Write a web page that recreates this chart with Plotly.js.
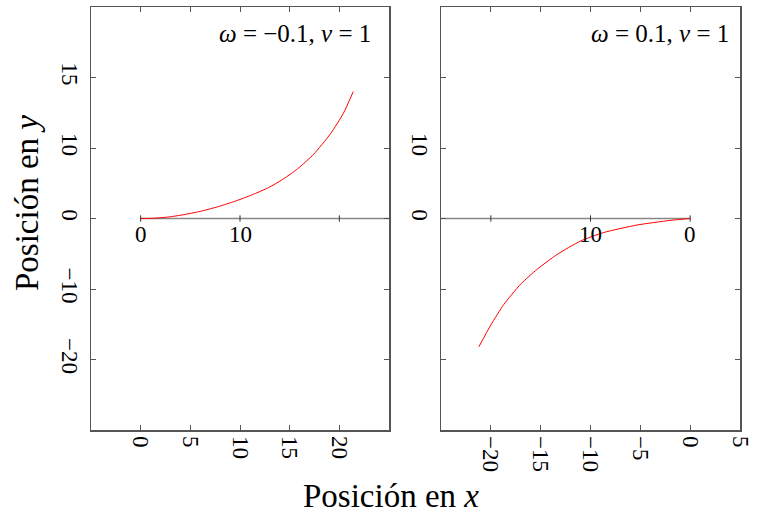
<!DOCTYPE html>
<html>
<head>
<meta charset="utf-8">
<script src="https://cdn.plot.ly/plotly-3.0.1.min.js"></script>
<style>html,body{margin:0;padding:0;background:#fff;}#chart{width:757px;height:514px;}</style>
</head>
<body>
<div id="chart"></div>
<script>
// ---- data ----
const leftX = [0, 1.2, 2.85, 4.5, 6.2, 7.85, 9.5, 11.2, 12.9, 14.3, 15.8, 17.4, 19.1, 20.4, 21.4];
const leftY = [0, 0.03, 0.22, 0.58, 1.08, 1.7, 2.45, 3.35, 4.4, 5.55, 7.05, 9.1, 12.0, 14.9, 18.0];
const rightX = [0, -2.0, -5.35, -8.7, -11.0, -13.35, -15.35, -17.0, -18.7, -20.0, -21.2];
const rightY = [0, -0.27, -0.93, -2.0, -3.2, -5.1, -7.2, -9.3, -12.2, -15.1, -18.2];

const yTickVals = [-20, -10, 0, 10, 20];
const leftYTickText = ['−20', '−10', '0', '10', '15'];
const rightYTickText = ['', '', '0', '10', ''];
const leftXTicks = [0, 5, 10, 15, 20];
const leftXTickText = ['0', '5', '10', '15', '20'];
const rightXTicks = [-20, -15, -10, -5, 0, 5];
const rightXTickText = ['−20', '−15', '−10', '−5', '0', '5'];

const innerLeftTicks = [0, 10, 20];
const innerLeftLabels = ['0', '10', ''];
const innerLeftSpan = [0, 25];
const innerRightTicks = [-20, -10, 0];
const innerRightLabels = ['', '10', '0'];
const innerRightSpan = [-25, 0];

const panelLabels = ['<i>ω</i> = −0.1, <i>v</i> = 1', '<i>ω</i> = 0.1, <i>v</i> = 1'];
const xTitle = 'Posición en <i>x</i>';
const yTitle = 'Posición en <i>y</i>';

// ---- styling ----
const FONT = 'Liberation Serif, DejaVu Serif, serif';
const frameColor = '#555555';

function axisBase(extra) {
  return Object.assign({
    showline: true, linecolor: frameColor, linewidth: 1.5, mirror: 'allticks',
    ticks: 'inside', ticklen: 5, tickwidth: 1, tickcolor: frameColor,
    showgrid: false, zeroline: false, tickmode: 'array', tickangle: 90,
    tickfont: {family: FONT, size: 23, color: '#000'}, fixedrange: true
  }, extra);
}

const traces = [
  {x: leftX, y: leftY, xaxis: 'x', yaxis: 'y', mode: 'lines',
   line: {color: '#ff0000', width: 1, shape: 'spline', smoothing: 0.6}, hoverinfo: 'skip'},
  {x: rightX, y: rightY, xaxis: 'x2', yaxis: 'y2', mode: 'lines',
   line: {color: '#ff0000', width: 1, shape: 'spline', smoothing: 0.6}, hoverinfo: 'skip'}
];

const shapes = [];
const annotations = [];
function innerAxis(xr, yr, span, ticks, labels) {
  shapes.push({type: 'line', xref: xr, yref: yr, x0: span[0], x1: span[1], y0: 0, y1: 0,
    line: {color: '#888888', width: 1.5}, layer: 'below'});
  ticks.forEach((t, i) => {
    shapes.push({type: 'line', xref: xr, yref: yr, x0: t, x1: t, y0: -0.45, y1: 0.45,
      line: {color: '#333333', width: 1}});
    if (labels[i]) annotations.push({xref: xr, yref: yr, x: t, y: 0, text: labels[i],
      showarrow: false, yanchor: 'top', yshift: -2, font: {family: FONT, size: 23, color: '#000'}});
  });
}
innerAxis('x', 'y', innerLeftSpan, innerLeftTicks, innerLeftLabels);
innerAxis('x2', 'y2', innerRightSpan, innerRightTicks, innerRightLabels);

annotations.push({xref: 'paper', yref: 'paper', x: 373 / 757, y: 1 - 33 / 514, xanchor: 'right', yanchor: 'middle',
  text: panelLabels[0], showarrow: false, font: {family: FONT, size: 25, color: '#000'}});
annotations.push({xref: 'paper', yref: 'paper', x: 731 / 757, y: 1 - 33 / 514, xanchor: 'right', yanchor: 'middle',
  text: panelLabels[1], showarrow: false, font: {family: FONT, size: 25, color: '#000'}});
annotations.push({xref: 'paper', yref: 'paper', x: 391 / 757, y: 1 - 496 / 514, xanchor: 'center', yanchor: 'middle',
  text: xTitle, showarrow: false, font: {family: FONT, size: 33, color: '#000'}});
annotations.push({xref: 'paper', yref: 'paper', x: 27 / 757, y: 1 - 203 / 514, xanchor: 'center', yanchor: 'middle',
  text: yTitle, textangle: -90, showarrow: false, font: {family: FONT, size: 33, color: '#000'}});

const yDom = [1 - 430 / 514, 1 - 7 / 514];
const layout = {
  width: 757, height: 514, margin: {l: 0, r: 0, t: 0, b: 0},
  paper_bgcolor: '#fff', plot_bgcolor: '#fff', showlegend: false,
  xaxis: axisBase({domain: [91 / 757, 389 / 757], range: [-5, 25], anchor: 'y',
    tickvals: leftXTicks, ticktext: leftXTickText}),
  yaxis: axisBase({domain: yDom, range: [-30, 30], anchor: 'x',
    tickvals: yTickVals, ticktext: leftYTickText}),
  xaxis2: axisBase({domain: [441 / 757, 740 / 757], range: [-25, 5], anchor: 'y2',
    tickvals: rightXTicks, ticktext: rightXTickText}),
  yaxis2: axisBase({domain: yDom, range: [-30, 30], anchor: 'x2',
    tickvals: yTickVals, ticktext: rightYTickText}),
  shapes: shapes, annotations: annotations
};

Plotly.newPlot('chart', traces, layout, {staticPlot: true, displayModeBar: false});
</script>
</body>
</html>
